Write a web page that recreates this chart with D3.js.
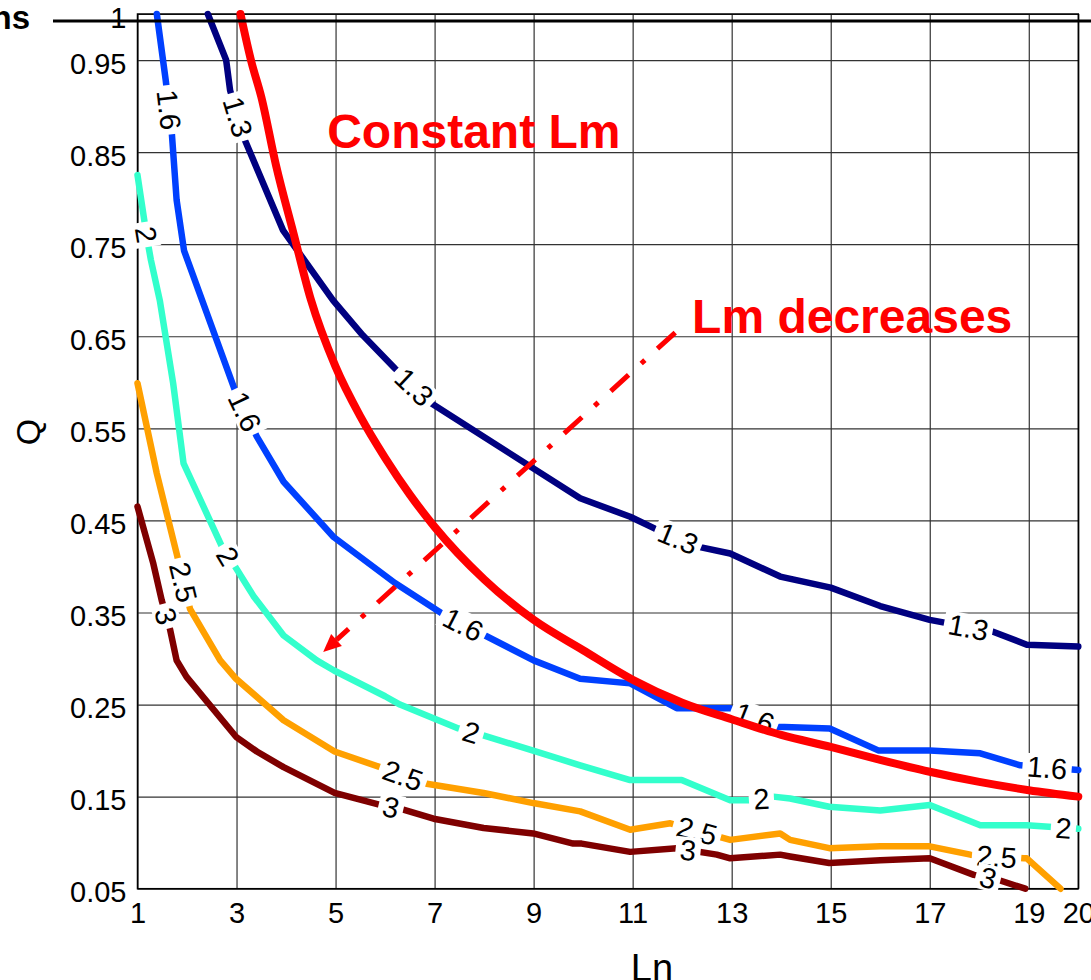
<!DOCTYPE html>
<html>
<head>
<meta charset="utf-8">
<script src="https://cdn.jsdelivr.net/npm/d3@7"></script>
<style>
  body { margin: 0; background: #fff; }
  svg { display: block; font-family: "Liberation Sans", Arial, sans-serif; }
</style>
</head>
<body>
<svg id="chart" width="1091" height="980"></svg>
<script>
// axis ticks
const xTicks = [1, 3, 5, 7, 9, 11, 13, 15, 17, 19, 20];
const yTicks = [0.05, 0.15, 0.25, 0.35, 0.45, 0.55, 0.65, 0.75, 0.85, 0.95, 1];

// contour levels and their lines, [Ln, Q]
const levels = ['1.3', '1.6', '2', '2.5', '3'];

const line13 = [[2.42, 1.0], [2.79, 0.95], [2.87, 0.917], [3.17, 0.863], [3.94, 0.765], [4.95, 0.689],
  [5.55, 0.651], [6.2, 0.615], [6.94, 0.577], [9.94, 0.474], [10.95, 0.454], [11.45, 0.441],
  [12.36, 0.421], [12.97, 0.414], [13.98, 0.389], [15, 0.377], [16, 0.357], [17, 0.342],
  [18.28, 0.329], [18.96, 0.315], [20, 0.313]];
const line16 = [[1.39, 1.0], [1.57, 0.928], [1.69, 0.873], [1.79, 0.798], [1.94, 0.743], [2.97, 0.591],
  [3.41, 0.541], [3.95, 0.492], [4.96, 0.432], [6.2, 0.382], [7.15, 0.349], [8.02, 0.325],
  [9.0, 0.298], [9.94, 0.278], [10.95, 0.273], [11.89, 0.246], [12.97, 0.246], [13.91, 0.226],
  [14.98, 0.224], [15.97, 0.2], [17, 0.2], [18.02, 0.197], [18.83, 0.184], [20, 0.179]];
const line20 = [[1.0, 0.825], [1.19, 0.757], [1.27, 0.733], [1.45, 0.689], [1.72, 0.599], [1.93, 0.512],
  [2.71, 0.421], [2.97, 0.4], [3.34, 0.368], [3.95, 0.325], [4.62, 0.298], [4.97, 0.287], [6.0, 0.259],
  [6.3, 0.25], [7.48, 0.224], [7.95, 0.217], [8.99, 0.2], [9.94, 0.184], [10.95, 0.168],
  [11.99, 0.168], [12.97, 0.146], [13.37, 0.146], [13.84, 0.15], [14.18, 0.148], [14.97, 0.139],
  [16, 0.135], [17, 0.141], [18.02, 0.119], [18.96, 0.119], [20, 0.115]];
const line25 = [[1.0, 0.599], [1.39, 0.501], [1.79, 0.414], [2.06, 0.354], [2.67, 0.298], [2.99, 0.278],
  [3.95, 0.233], [4.98, 0.199], [5.9, 0.182], [6.84, 0.164], [7.99, 0.154], [8.99, 0.143],
  [9.94, 0.134], [10.95, 0.114], [11.76, 0.121], [12.97, 0.103], [13.98, 0.11], [14.18, 0.103],
  [14.97, 0.094], [16, 0.096], [17, 0.096], [17.82, 0.087], [18.9, 0.083], [18.96, 0.083],
  [19.64, 0.05]];
const line30 = [[1.0, 0.465], [1.32, 0.403], [1.49, 0.363], [1.66, 0.331], [1.79, 0.298], [1.99, 0.28],
  [2.99, 0.215], [3.41, 0.199], [3.95, 0.182], [4.98, 0.154], [5.9, 0.141], [6.3, 0.137],
  [6.98, 0.126], [7.99, 0.116], [8.99, 0.11], [9.8, 0.099], [9.97, 0.099], [10.95, 0.09],
  [11.89, 0.094], [12.7, 0.087], [12.97, 0.083], [13.98, 0.087], [14.18, 0.085], [14.97, 0.078],
  [16, 0.081], [17, 0.083], [17.89, 0.065], [18.36, 0.06], [18.93, 0.05]];
const lineData = [line13, line16, line20, line25, line30];

// Ln positions of the inline level labels
const labelLn = [
  [3.03, 6.59, 11.92, 17.78],
  [1.64, 3.17, 7.58, 13.46, 19.37],
  [1.18, 2.83, 7.74, 13.6, 19.7],
  [1.93, 6.36, 12.3, 18.35],
  [1.58, 6.12, 12.12, 18.18]
];

// constant Lm curve
const lmLn = [3.08, 3.3, 3.5, 3.8, 4.15, 4.5, 5, 5.5, 6, 6.5, 7, 8, 9, 10, 11, 12, 13, 14, 15, 16, 17, 18, 19, 20];
const lmQ = [1.0, 0.948, 0.91, 0.835, 0.762, 0.69, 0.617, 0.563, 0.518, 0.478, 0.443, 0.386, 0.342, 0.309,
  0.277, 0.252, 0.234, 0.217, 0.204, 0.19, 0.177, 0.166, 0.157, 0.15];

const colors = ['#000080', '#0040ff', '#33ffcc', '#ffa000', '#7f0000'];

const margin = { top: 14, right: 12.7, bottom: 91.3, left: 137.5 };
const width = 1091 - margin.left - margin.right;
const height = 980 - margin.top - margin.bottom;

const svg = d3.select('#chart');
const g = svg.append('g').attr('transform', `translate(${margin.left},${margin.top})`);

const x = d3.scaleLinear().domain([1, 20]).range([0, width]);
const y = d3.scaleLinear().domain([0.05, 1]).range([height, 0]);

// grid + tick labels
const xAxis = g.append('g')
  .attr('transform', `translate(0,${height})`)
  .call(d3.axisBottom(x).tickValues(xTicks).tickFormat(d3.format('d'))
    .tickSizeInner(-height).tickSizeOuter(0).tickPadding(14));
const yAxis = g.append('g')
  .call(d3.axisLeft(y).tickValues(yTicks).tickFormat(d => d === 1 ? '1' : d3.format('.2f')(d))
    .tickSizeInner(-width).tickSizeOuter(0).tickPadding(11));

[xAxis, yAxis].forEach(a => {
  a.select('.domain').remove();
  a.selectAll('.tick line').attr('stroke', '#333').attr('stroke-width', 1.2);
  a.selectAll('.tick text').attr('fill', '#000').style('font-size', '29px')
    .style('font-family', '"Liberation Sans", Arial, sans-serif');
});
yAxis.selectAll('.tick text').attr('dy', '0.45em');

// frame
g.append('rect')
  .attr('width', width).attr('height', height)
  .attr('fill', 'none').attr('stroke', '#000').attr('stroke-width', 1.5);

// thick rule across the top
svg.append('line')
  .attr('x1', 53).attr('x2', 1091).attr('y1', 21).attr('y2', 21)
  .attr('stroke', '#000').attr('stroke-width', 3);
svg.append('text')
  .attr('x', 30).attr('y', 29).attr('text-anchor', 'end')
  .style('font-family', '"Liberation Sans Narrow", "Liberation Sans", sans-serif')
  .style('font-weight', 'bold').style('font-size', '33px')
  .text('ns');

// contour lines
const line = d3.line().x(d => x(d[0])).y(d => y(d[1]));
lineData.forEach((pts, i) => {
  g.append('path')
    .datum(pts)
    .attr('fill', 'none')
    .attr('stroke', colors[i])
    .attr('stroke-width', 6.5)
    .attr('stroke-linecap', 'round')
    .attr('stroke-linejoin', 'round')
    .attr('d', line);
});

// inline labels, rotated along the line
function labelSpots(pts, lns, half) {
  const px = pts.map(d => [x(d[0]), y(d[1])]);
  const cum = [0];
  for (let i = 1; i < px.length; i++) {
    cum.push(cum[i - 1] + Math.hypot(px[i][0] - px[i - 1][0], px[i][1] - px[i - 1][1]));
  }
  const total = cum[cum.length - 1];
  const atS = s => {
    s = Math.max(0, Math.min(total, s));
    let i = 0;
    while (i < cum.length - 2 && cum[i + 1] < s) i++;
    const t = (s - cum[i]) / (cum[i + 1] - cum[i] || 1);
    return [px[i][0] + t * (px[i + 1][0] - px[i][0]), px[i][1] + t * (px[i + 1][1] - px[i][1])];
  };
  const sAtLn = ln => {
    let i = 0;
    while (i < pts.length - 2 && pts[i + 1][0] < ln) i++;
    const t = (ln - pts[i][0]) / (pts[i + 1][0] - pts[i][0]);
    return cum[i] + Math.max(0, Math.min(1, t)) * (cum[i + 1] - cum[i]);
  };
  return lns.map(ln => {
    const s = sAtLn(ln);
    const c = atS(s), a = atS(s - half), b = atS(s + half);
    let ang = Math.atan2(b[1] - a[1], b[0] - a[0]) * 180 / Math.PI;
    if (ang > 90) ang -= 180;
    if (ang < -90) ang += 180;
    return { x: c[0], y: c[1], ang };
  });
}

levels.forEach((lv, i) => {
  const spots = labelSpots(lineData[i], labelLn[i], 22);
  spots.forEach(p => {
    const lg = g.append('g').attr('transform', `translate(${p.x},${p.y}) rotate(${p.ang})`);
    const r = lg.append('rect').attr('fill', '#fff');
    const t = lg.append('text')
      .attr('text-anchor', 'middle').attr('dy', '0.36em')
      .style('font-size', '29px').attr('fill', '#000')
      .text(lv);
    const tw = t.node().getComputedTextLength();
    r.attr('x', -tw / 2 - 4.5).attr('y', -13).attr('width', tw + 9).attr('height', 26);
  });
});

// constant Lm curve
const lm = lmLn.map((d, i) => [d, lmQ[i]]);
g.append('path')
  .datum(lm)
  .attr('fill', 'none')
  .attr('stroke', '#ff0000')
  .attr('stroke-width', 8)
  .attr('stroke-linecap', 'round')
  .attr('d', d3.line().curve(d3.curveMonotoneX).x(d => x(d[0])).y(d => y(d[1])));

// "Lm decreases" arrow
const a0 = [x(11.86), y(0.654)];
const tip = [x(4.75), y(0.307)];
const len = Math.hypot(tip[0] - a0[0], tip[1] - a0[1]);
const u = [(tip[0] - a0[0]) / len, (tip[1] - a0[1]) / len];
const n = [-u[1], u[0]];
const base = [tip[0] - u[0] * 18, tip[1] - u[1] * 18];
g.append('line')
  .attr('x1', a0[0]).attr('y1', a0[1]).attr('x2', base[0]).attr('y2', base[1])
  .attr('stroke', '#ff0000').attr('stroke-width', 5)
  .attr('stroke-dasharray', '24,17,5,17');
g.append('path')
  .attr('d', `M${tip[0]},${tip[1]}L${base[0] + n[0] * 8},${base[1] + n[1] * 8}L${base[0] - n[0] * 8},${base[1] - n[1] * 8}Z`)
  .attr('fill', '#ff0000');

// annotations
g.append('text')
  .attr('x', x(4.83)).attr('y', y(0.854))
  .attr('fill', '#ff0000').style('font-weight', 'bold').style('font-size', '48px')
  .text('Constant Lm');
g.append('text')
  .attr('x', x(12.2)).attr('y', y(0.653))
  .attr('fill', '#ff0000').style('font-weight', 'bold').style('font-size', '48px')
  .text('Lm decreases');

// axis titles
svg.append('text')
  .attr('transform', 'translate(28,432) rotate(-90)')
  .attr('text-anchor', 'middle').attr('dy', '0.35em')
  .style('font-size', '34px')
  .text('Q');
svg.append('text')
  .attr('x', 652).attr('y', 981)
  .attr('text-anchor', 'middle')
  .style('font-size', '38px')
  .text('Ln');
</script>
</body>
</html>
